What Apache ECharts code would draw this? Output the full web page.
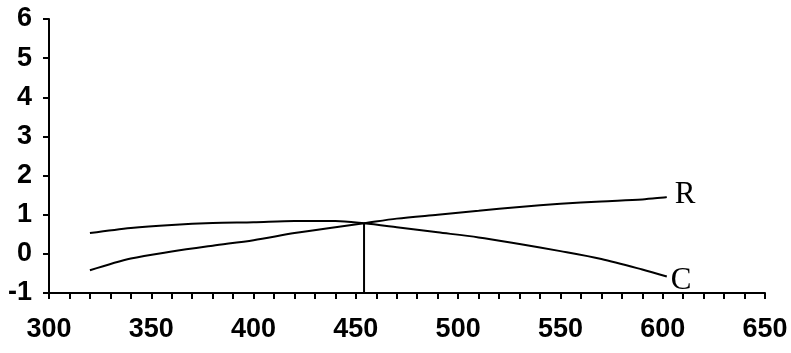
<!DOCTYPE html>
<html>
<head>
<meta charset="utf-8">
<script src="https://cdn.jsdelivr.net/npm/echarts@6/dist/echarts.min.js"></script>
<style>
  html, body { margin: 0; padding: 0; background: #fff; }
  #chart { width: 791px; height: 353px; }
</style>
</head>
<body>
<div id="chart"></div>
<script>
// Wavelength samples shared by both curves
const xValues = [320, 340, 360, 380, 400, 420, 440, 454, 470, 490, 510, 530, 550, 570, 590, 602];
// Curve R: rises steadily across the range
const rValues = [-0.42, -0.12, 0.06, 0.21, 0.35, 0.53, 0.68, 0.78, 0.90, 1.00, 1.10, 1.20, 1.28, 1.34, 1.39, 1.45];
// Curve C: flat near 0.8, then falls off
const cValues = [0.53, 0.66, 0.74, 0.79, 0.81, 0.84, 0.84, 0.78, 0.68, 0.55, 0.42, 0.25, 0.07, -0.13, -0.40, -0.58];
// Crossing point marker (vertical drop line to the x axis)
const crossX = 454;
const crossY = [-1, 0.78];

const xTicks = { min: 300, max: 650, step: 50 };
const yTicks = { min: -1, max: 6, step: 1 };

const pair = (xs, ys) => xs.map((x, i) => [x, ys[i]]);

const chart = echarts.init(document.getElementById('chart'), null, { renderer: 'canvas' });

const axisFont = {
  color: '#000',
  fontFamily: '"Liberation Sans", Arial, sans-serif',
  fontWeight: 'bold',
  fontSize: 27
};

const endLabel = (dx, dy) => ({
  show: true,
  formatter: '{a}',
  color: '#000',
  fontFamily: '"Liberation Serif", "Times New Roman", serif',
  fontSize: 31,
  distance: dx,
  offset: [0, dy]
});

chart.setOption({
  animation: false,
  backgroundColor: '#fff',
  grid: { left: 49, right: 26, top: 19, bottom: 60, containLabel: false },
  xAxis: {
    type: 'value',
    min: xTicks.min,
    max: xTicks.max,
    interval: xTicks.step,
    axisLine: { show: true, onZero: false, lineStyle: { color: '#000', width: 2 } },
    axisTick: { show: true, inside: false, length: 6, lineStyle: { color: '#000', width: 2 } },
    minorTick: { show: true, splitNumber: 5, length: 6, lineStyle: { color: '#000', width: 2 } },
    splitLine: { show: false },
    axisLabel: Object.assign({ margin: 23 }, axisFont)
  },
  yAxis: {
    type: 'value',
    min: yTicks.min,
    max: yTicks.max,
    interval: yTicks.step,
    axisLine: { show: true, onZero: false, lineStyle: { color: '#000', width: 2 } },
    axisTick: { show: true, inside: false, length: 6, lineStyle: { color: '#000', width: 2 } },
    splitLine: { show: false },
    axisLabel: Object.assign({ margin: 17 }, axisFont)
  },
  series: [
    {
      name: 'R',
      type: 'line',
      data: pair(xValues, rValues),
      smooth: 0.3,
      showSymbol: false,
      lineStyle: { color: '#000', width: 2 },
      endLabel: endLabel(8, -2)
    },
    {
      name: 'C',
      type: 'line',
      data: pair(xValues, cValues),
      smooth: 0.3,
      showSymbol: false,
      lineStyle: { color: '#000', width: 2 },
      endLabel: endLabel(4, 4)
    },
    {
      name: 'cross',
      type: 'line',
      data: [[crossX, crossY[0]], [crossX, crossY[1]]],
      showSymbol: false,
      lineStyle: { color: '#000', width: 2 }
    }
  ]
});
</script>
</body>
</html>
